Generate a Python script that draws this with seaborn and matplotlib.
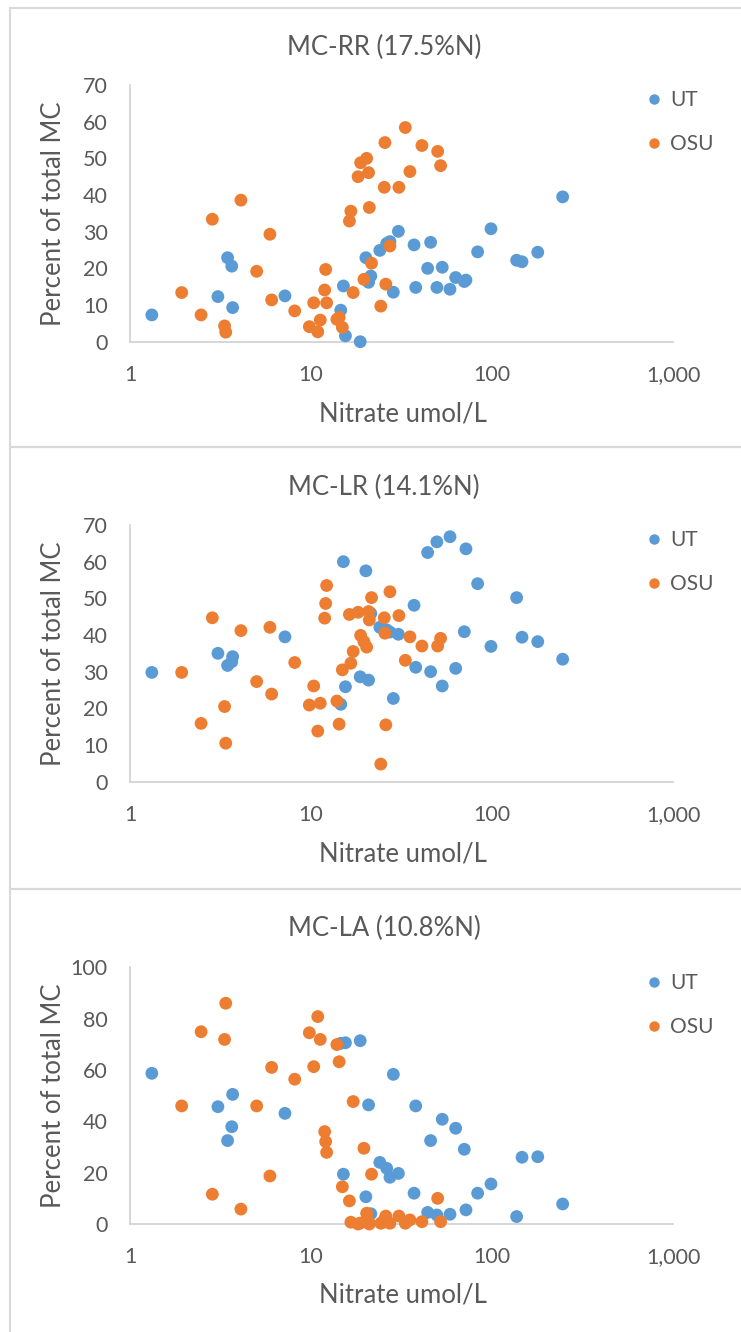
import matplotlib
matplotlib.use("Agg")
import matplotlib.pyplot as plt
import seaborn as sns
import pandas as pd
from matplotlib.lines import Line2D
from matplotlib.patches import Rectangle

# ---------------- data ----------------
ut_nitrate = [1.32, 3.06, 3.46, 3.65, 3.69, 7.18, 14.6, 15.1, 15.5, 18.7, 20.1, 20.8,
              21.4, 24.0, 26.2, 27.3, 28.5, 30.4, 37.1, 37.9, 44.1, 45.8, 49.6, 53.1,
              58.6, 63.0, 70.3, 71.8, 83.3, 98.7, 136.8, 146.5, 179, 245.7]
osu_nitrate = [1.93, 2.47, 2.85, 3.33, 3.38, 4.1, 5.01, 5.93, 6.06, 8.13, 9.79, 10.35,
               10.9, 11.25, 11.9, 12.05, 12.2, 13.9, 14.3, 14.9, 16.3, 16.6, 17.1, 18.2,
               18.8, 19.6, 20.3, 20.8, 21.0, 21.6, 24.3, 25.4, 25.6, 25.9, 27.3, 30.6,
               33.2, 35.2, 41.0, 50.1, 52.0]

ut_rr = [7.3, 12.3, 22.9, 20.6, 9.3, 12.5, 8.6, 15.2, 1.6, 0.0, 22.9, 16.2,
         17.9, 24.9, 26.8, 27.3, 13.5, 30.1, 26.4, 14.8, 20.0, 27.1, 14.8, 20.3,
         14.3, 17.5, 16.4, 16.8, 24.5, 30.8, 22.2, 21.8, 24.4, 39.5]
osu_rr = [13.4, 7.3, 33.4, 4.3, 2.6, 38.6, 19.2, 29.3, 11.4, 8.4, 4.1, 10.6,
          2.7, 5.9, 14.1, 19.7, 10.6, 6.1, 6.6, 3.9, 32.9, 35.6, 13.4, 45.0,
          48.8, 17.0, 50.0, 46.1, 36.6, 21.4, 9.7, 42.1, 54.3, 15.7, 26.1, 42.1,
          58.4, 46.4, 53.5, 51.9, 48.0]

ut_lr = [29.8, 35.0, 31.7, 32.7, 34.1, 39.5, 21.1, 60.0, 25.9, 28.6, 57.5, 27.7,
         45.9, 42.1, 41.4, 40.8, 22.7, 40.2, 48.1, 31.2, 62.5, 30.0, 65.4, 26.1,
         66.8, 30.9, 40.9, 63.5, 54.0, 36.9, 50.2, 39.4, 38.2, 33.4]
osu_lr = [29.8, 15.9, 44.7, 20.5, 10.5, 41.2, 27.3, 42.1, 23.9, 32.5, 20.9, 26.1,
          13.8, 21.4, 44.6, 48.6, 53.5, 22.0, 15.7, 30.5, 45.6, 32.3, 35.5, 46.2,
          39.9, 38.2, 36.7, 46.4, 44.1, 50.2, 4.8, 44.7, 40.5, 15.5, 51.8, 45.3,
          33.1, 39.5, 37.0, 37.0, 39.1]

ut_la = [58.7, 45.7, 32.5, 37.9, 50.5, 43.1, 70.4, 19.4, 70.6, 71.4, 10.6, 46.4,
         4.0, 24.0, 21.7, 18.2, 58.3, 19.7, 12.0, 46.0, 4.5, 32.5, 3.5, 40.8,
         3.8, 37.3, 29.1, 5.5, 12.0, 15.6, 2.9, 26.0, 26.2, 7.8]
osu_la = [46.0, 74.9, 11.6, 71.9, 86.0, 5.8, 46.0, 18.7, 61.0, 56.4, 74.5, 61.3,
          80.8, 71.9, 36.0, 32.1, 27.9, 69.9, 63.2, 14.5, 9.0, 0.7, 47.7, 0.0,
          0.4, 29.5, 4.2, 0.9, 0.0, 19.4, 0.3, 1.6, 0.8, 3.1, 0.3, 3.1,
          0.3, 1.6, 0.9, 10.0, 0.9]

titles = ["MC-RR (17.5%N)", "MC-LR (14.1%N)", "MC-LA (10.8%N)"]
series_names = ["UT", "OSU"]
x_ticks = [1, 10, 100, 1000]
x_tick_labels = ["1", "10", "100", "1,000"]
y_ticks_list = [[0, 10, 20, 30, 40, 50, 60, 70], [0, 10, 20, 30, 40, 50, 60, 70],
                [0, 20, 40, 60, 80, 100]]
x_label = "Nitrate umol/L"
y_label = "Percent of total MC"
panel_values = [(ut_rr, osu_rr), (ut_lr, osu_lr), (ut_la, osu_la)]

# ---------------- style ----------------
sns.set_theme(style="white")
plt.rcParams["font.family"] = ["Lato", "DejaVu Sans"]
TXT = "#595959"
BLUE = "#5B9BD5"
ORANGE = "#ED7D31"
AXIS = "#D0D0D0"
BORDER = "#D9D9D9"

W, H = 741, 1332
fig = plt.figure(figsize=(W / 100, H / 100), dpi=100)
fig.patch.set_facecolor("white")

def fx(px):
    return px / W

def fy(py):
    return 1 - py / H

panel_offset = [0, 440, 881]
plot_rows = [(85, 341.7), (525, 781.7), (967.3, 1224)]
left_px, right_px = 130, 673

box_edges = [8, 447, 889, 1345]
for i in range(3):
    top, bot = box_edges[i], box_edges[i + 1]
    fig.add_artist(Rectangle((fx(10), fy(bot)), fx(800) - fx(10), (bot - top) / H,
                             transform=fig.transFigure, fill=False,
                             edgecolor=BORDER, linewidth=1.5, zorder=0))

for i in range(3):
    top, bot = plot_rows[i]
    ax = fig.add_axes([fx(left_px), fy(bot), (right_px - left_px) / W, (bot - top) / H])
    ut_vals, osu_vals = panel_values[i]
    df = pd.DataFrame({
        "Nitrate": list(ut_nitrate) + list(osu_nitrate),
        "Percent": list(ut_vals) + list(osu_vals),
        "Lab": [series_names[0]] * len(ut_nitrate) + [series_names[1]] * len(osu_nitrate),
    })
    sns.scatterplot(data=df, x="Nitrate", y="Percent", hue="Lab",
                    palette={"UT": BLUE, "OSU": ORANGE}, s=85, linewidth=0,
                    ax=ax, legend=False, clip_on=False, zorder=3)
    ax.set_xscale("log")
    ax.set_xlim(1, 1000)
    yt = y_ticks_list[i]
    ax.set_ylim(yt[0], yt[-1])
    ax.set_xticks(x_ticks)
    ax.set_xticklabels(x_tick_labels)
    ax.xaxis.set_minor_locator(matplotlib.ticker.NullLocator())
    ax.set_yticks(yt)
    ax.set_yticklabels([str(v) for v in yt])
    ax.tick_params(axis="both", length=0, labelsize=15.5, colors=TXT)
    ax.tick_params(axis="y", pad=16)
    ax.tick_params(axis="x", pad=16.5)
    ax.set_xlabel("")
    ax.set_ylabel("")
    for sp in ["top", "right"]:
        ax.spines[sp].set_visible(False)
    for sp in ["left", "bottom"]:
        ax.spines[sp].set_color(AXIS)
        ax.spines[sp].set_linewidth(1.2)
    ax.set_facecolor("none")

    off = panel_offset[i]
    fig.text(fx(384), fy(47 + off), titles[i], ha="center", va="center",
             fontsize=18.5, color=TXT)
    fig.text(fx(403), fy(414 + off), x_label, ha="center", va="center",
             fontsize=18.5, color=TXT)
    fig.text(fx(54), fy((top + bot) / 2), y_label, ha="center", va="center",
             rotation=90, fontsize=18.5, color=TXT)

    handles = [Line2D([], [], linestyle="none", marker="o", markersize=7.5,
                      markerfacecolor=c, markeredgewidth=0) for c in (BLUE, ORANGE)]
    ax.legend(handles, series_names, loc="upper left",
              bbox_to_anchor=(fx(646), fy(90 + off + (2 if i == 2 else 0))),
              bbox_transform=fig.transFigure, frameon=False, fontsize=15,
              handlelength=0.8, handletextpad=0.35, labelspacing=1.15,
              borderpad=0, borderaxespad=0, labelcolor=TXT)

fig.savefig("out.png", dpi=100, facecolor="white")
